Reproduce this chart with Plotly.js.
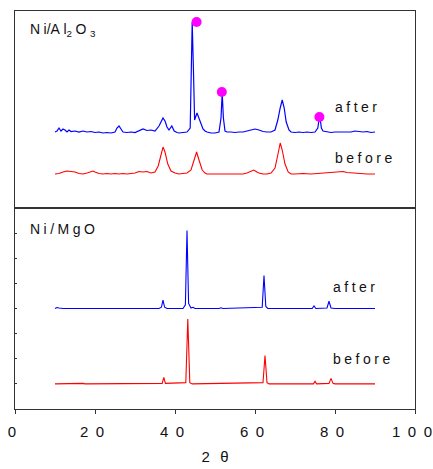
<!DOCTYPE html>
<html>
<head>
<meta charset="utf-8">
<script src="https://cdn.plot.ly/plotly-3.0.1.min.js"></script>
<style>html,body{margin:0;padding:0;background:#fff;}#chart{width:433px;height:469px;}</style>
</head>
<body>
<div id="chart"></div>
<script>
// ---- Top panel (Ni/Al2O3), intensity in arbitrary units ----
var alAfterX = [10,10.5,11,11.5,12,12.5,13,13.5,14,15,16,17,18,19,20,21,22,23,24,25,25.5,26,26.5,27,28,29,30,31,32,33,34,35,35.5,36,37,37.5,38,38.5,39.2,39.8,40.5,41,42,43,43.8,44.1,44.3,44.6,44.9,45.5,46,46.5,47,47.5,48,49,50,51,51.5,51.8,52.1,52.5,53,54,55,56,57,58,59,60,61,62,63,64,65,65.7,66.3,66.8,67.3,67.8,68.5,69,70,71,72,73,74,75,75.7,76,76.3,76.6,77,78,79,80,81,82,83,84,85,86,87,88,89,90];
var alAfterY = [76,77,80,77,79,78,76,78,76.5,77,76,77,76,76.5,75.5,76,75,75.5,75,76,80,82,79,76,75.5,76,75.5,77,79,77.5,78,77,79,82,90,87,81,78,82,77,75.5,75,75.5,76,80,140,186,140,88,95,90,84,79,77,76,75,75,76,90,115,90,77,76,76,75.5,76,76,77,78,79,78,76.5,76,76,78,88,100,108,100,86,78,76,75.5,76,75.5,76,75.5,76,80,88,89,80,77,76,75.5,76,76,76.5,76,76,77,76.5,76,76.5,75.5,76];
var alBeforeX = [10,11,12,13,14,15,16,17,18,19,19.5,20,21,22,23,24,25,26,27,28,29,30,31,32,33,34,35,35.8,36.5,37,37.5,38.2,39,40,41,42,43,44,44.8,45.4,46,46.8,47.5,48,49,50,52,54,56,57,58,59,59.7,60.5,61,62,63,64,65,65.8,66.3,66.8,67.5,68.3,69,70,72,74,76,78,80,82,83,85,86,88,90];
var alBeforeY = [34,34.5,36,37,36.5,36,34.5,34,35,36.5,37,36,34.5,34,34.5,34,34.5,34,34.5,34,34.5,35,36.5,36,36.5,35,36,42,53,61,56,44,37,35,34,34.5,35,38,48,56,48,38,35,34,34,34,34.5,34,34.5,34,35,37,38,36,35,34,34,35,40,55,65,58,44,36,34,34,34.5,34,34.5,35,35.5,36.5,35.5,35,34,34,34];
var dotX = [45.4,51.7,76.1];
var dotY = [186,116,91];

// ---- Bottom panel (Ni/MgO) ----
var mgAfterX = [10,10.5,11,12,20,30,36,36.6,37,37.4,38,42,42.6,43,43.4,44,44.5,45,51,51.5,52,61.8,62.25,62.7,63.2,74.3,74.75,75.2,78,78.5,79,80,90];
var mgAfterY = [4.0,4.04,4.02,4.0,4.0,4.0,4.0,4.05,4.33,4.05,4.0,4.0,4.15,7.1,4.2,4.02,4.05,4.0,4.0,4.03,4.0,4.05,5.31,4.08,4.0,4.0,4.1,4.0,4.02,4.29,4.02,4.0,4.0];
var mgBeforeX = [10,13,15,17,17.5,30,36.8,37.2,37.6,42.7,43.2,43.7,44.3,62,62.5,63,63.5,74.6,75,75.4,78.5,79,79.5,80,90];
var mgBeforeY = [1.0,1.02,1.03,1.02,1.0,1.0,1.02,1.26,1.02,1.05,3.58,1.05,1.0,1.05,2.13,1.05,1.0,1.0,1.1,1.0,1.02,1.22,1.02,1.0,1.0];

// ---- Ticks and labels ----
var xTickVals = [0,20,40,60,80,100];
var xTickText = ["0","2\u20020","4\u20020","6\u20020","8\u20020","1\u20020\u20020"];
var yMinorTicks = [1,2,3,4,5,6,7];
var xTitle = "2\u2002\u2009\u03b8";

var lineCol = "#333";
var traces = [
  {x: alAfterX, y: alAfterY, xaxis:"x2", yaxis:"y2", mode:"lines", line:{color:"#0000ff", width:1.2}, hoverinfo:"skip"},
  {x: alBeforeX, y: alBeforeY, xaxis:"x2", yaxis:"y2", mode:"lines", line:{color:"#ff0000", width:1.1}, hoverinfo:"skip"},
  {x: dotX, y: dotY, xaxis:"x2", yaxis:"y2", mode:"markers", marker:{color:"#ff00ff", size:10, symbol:"circle"}, hoverinfo:"skip"},
  {x: mgAfterX, y: mgAfterY, xaxis:"x", yaxis:"y", mode:"lines", line:{color:"#0000ff", width:1.1}, hoverinfo:"skip"},
  {x: mgBeforeX, y: mgBeforeY, xaxis:"x", yaxis:"y", mode:"lines", line:{color:"#ff0000", width:1.1}, hoverinfo:"skip"}
];

var sp = "\u2005";
function spaced(s){ return s.split("").join(sp); }
var annFont = {family:"Arial, 'Liberation Sans', sans-serif", size:14, color:"#111"};

var layout = {
  width:433, height:469,
  margin:{l:15, r:18, t:11, b:60},
  paper_bgcolor:"#fff", plot_bgcolor:"#fff",
  showlegend:false,
  font:{family:"Arial, 'Liberation Sans', sans-serif", size:15, color:"#111"},
  xaxis:{domain:[0,1], range:[0,100], anchor:"y", showline:true, linecolor:lineCol, linewidth:1, mirror:true,
         ticks:"outside", ticklen:4, tickcolor:lineCol, tickvals:xTickVals, ticktext:xTickText,
         ticklabelshift:-3, ticklabelstandoff:5,
         showgrid:false, zeroline:false, tickfont:{size:15},
         title:{text:xTitle, font:{size:15}, standoff:12}},
  yaxis:{domain:[0,0.505], range:[0,8], anchor:"x", showline:true, linecolor:lineCol, linewidth:1, mirror:true,
         ticks:"inside", ticklen:2, tickcolor:lineCol, tickvals:yMinorTicks, showticklabels:false,
         showgrid:false, zeroline:false},
  xaxis2:{domain:[0,1], range:[0,100], anchor:"y2", showline:true, linecolor:lineCol, linewidth:1, mirror:true,
          ticks:"", showticklabels:false, showgrid:false, zeroline:false},
  yaxis2:{domain:[0.505,1], range:[0,197], anchor:"x2", showline:true, linecolor:lineCol, linewidth:1, mirror:true,
          ticks:"", showticklabels:false, showgrid:false, zeroline:false},
  annotations:[
    {xref:"x2", yref:"y2", x:3.2, y:178.5, xanchor:"left", yanchor:"middle", showarrow:false, font:annFont,
     text:"N"+sp+"i/A"+sp+"l<sub>2</sub>"+sp+"O"+sp+"<sub>3</sub>"},
    {xref:"x2", yref:"y2", x:79.5, y:101, xanchor:"left", yanchor:"middle", showarrow:false, font:annFont, text:spaced("after")},
    {xref:"x2", yref:"y2", x:79.5, y:50, xanchor:"left", yanchor:"middle", showarrow:false, font:annFont, text:spaced("before")},
    {xref:"x", yref:"y", x:3.2, y:7.17, xanchor:"left", yanchor:"middle", showarrow:false, font:annFont, text:spaced("Ni/MgO")},
    {xref:"x", yref:"y", x:79, y:4.86, xanchor:"left", yanchor:"middle", showarrow:false, font:annFont, text:spaced("after")},
    {xref:"x", yref:"y", x:79, y:1.99, xanchor:"left", yanchor:"middle", showarrow:false, font:annFont, text:spaced("before")}
  ]
};

Plotly.newPlot("chart", traces, layout, {staticPlot:true, displayModeBar:false});
</script>
</body>
</html>
